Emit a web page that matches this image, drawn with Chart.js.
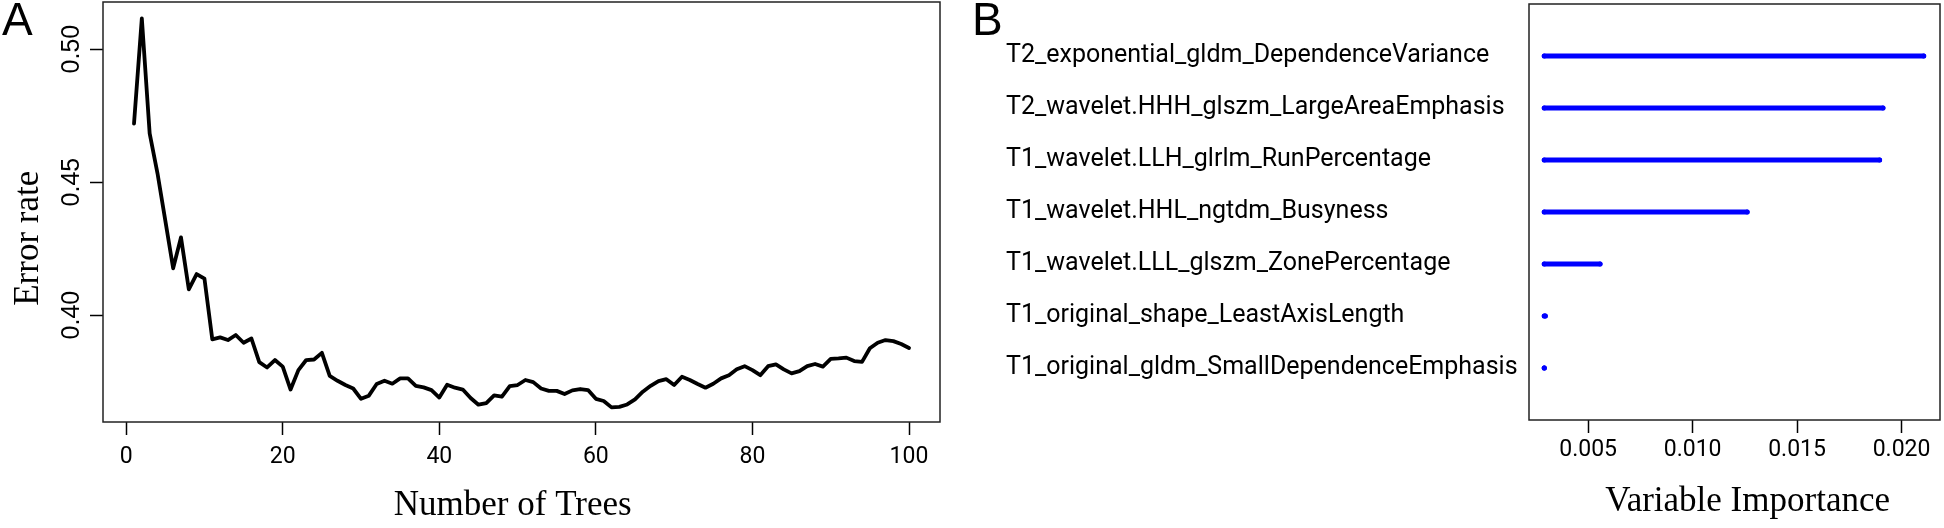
<!DOCTYPE html>
<html>
<head>
<meta charset="utf-8">
<title>Error rate and variable importance</title>
<script src="https://cdn.jsdelivr.net/npm/chart.js@4.4.1/dist/chart.umd.min.js"></script>
<style>
  body { margin: 0; background: #fff; width: 1944px; height: 528px; overflow: hidden; position: relative; }
  canvas { position: absolute; top: 0; }
  #chartA { left: 0; }
  #chartB { left: 975px; }
  .panel-tag { position: absolute; top: -4px; font-family: 'Liberation Sans', Arial, sans-serif; font-size: 46px; line-height: 1; color: #000; }
</style>
</head>
<body>
<canvas id="chartA" width="970" height="528"></canvas>
<canvas id="chartB" width="969" height="528"></canvas>
<div class="panel-tag" style="left:2px">A</div>
<div class="panel-tag" style="left:972px">B</div>
<script>
// panel A: OOB error rate against number of trees (1..100)
const errorRate = [
    0.4720, 0.5115, 0.4683, 0.4533, 0.4355, 0.4176, 0.4292, 0.4097, 0.4154, 0.4137,
    0.3909, 0.3916, 0.3906, 0.3925, 0.3896, 0.3912, 0.3823, 0.3803, 0.3831, 0.3806,
    0.3720, 0.3793, 0.3831, 0.3833, 0.3858, 0.3771, 0.3753, 0.3737, 0.3724, 0.3685,
    0.3697, 0.3741, 0.3753, 0.3742, 0.3762, 0.3762, 0.3734, 0.3728, 0.3718, 0.3690,
    0.3738, 0.3727, 0.3720, 0.3688, 0.3663, 0.3669, 0.3698, 0.3693, 0.3733, 0.3737,
    0.3756, 0.3748, 0.3724, 0.3715, 0.3715, 0.3703, 0.3717, 0.3722, 0.3718, 0.3685,
    0.3677, 0.3653, 0.3655, 0.3664, 0.3683, 0.3712, 0.3734, 0.3752, 0.3759, 0.3737,
    0.3768, 0.3756, 0.3741, 0.3727, 0.3742, 0.3762, 0.3774, 0.3796, 0.3808, 0.3793,
    0.3774, 0.3808, 0.3815, 0.3796, 0.3781, 0.3789, 0.3808, 0.3816, 0.3806, 0.3835,
    0.3837, 0.3840, 0.3827, 0.3824, 0.3875, 0.3896, 0.3906, 0.3902, 0.3891, 0.3876
];
const nTrees = errorRate.map((_, i) => i + 1);
const treeTicks = [0, 20, 40, 60, 80, 100];
const errorTicks = [0.40, 0.45, 0.50];

// panel B: variable importance
const featureNames = [
    'T2_exponential_gldm_DependenceVariance',
    'T2_wavelet.HHH_glszm_LargeAreaEmphasis',
    'T1_wavelet.LLH_glrlm_RunPercentage',
    'T1_wavelet.HHL_ngtdm_Busyness',
    'T1_wavelet.LLL_glszm_ZonePercentage',
    'T1_original_shape_LeastAxisLength',
    'T1_original_gldm_SmallDependenceEmphasis'
];
const importance = [0.02106, 0.01911, 0.01895, 0.01261, 0.00557, 0.00295, 0.00290];
const importanceTicks = [0.005, 0.010, 0.015, 0.020];

const narrowFont = "Roboto, 'Liberation Sans', sans-serif";
const serifFont = "'Liberation Serif', 'Times New Roman', serif";
const sp = '\u00a0';

// plot box like R's box()
const frameBox = {
    id: 'frameBox',
    afterDraw(chart) {
        const { ctx, chartArea: a } = chart;
        ctx.save();
        ctx.strokeStyle = '#222';
        ctx.lineWidth = 1.5;
        ctx.strokeRect(a.left, a.top, a.right - a.left, a.bottom - a.top);
        ctx.restore();
    }
};

const tickGrid = {
    drawOnChartArea: false,
    tickLength: 13,
    tickColor: '#000',
    tickWidth: 1.5
};

// fixed axis sizes so the plot boxes sit where they do in the figure
function fixWidth(w) {
    return s => { s.width = w; s.paddingTop = 0; s.paddingBottom = 0; };
}
function fixHeight(h) {
    return s => { s.height = h; };
}

new Chart(document.getElementById('chartA'), {
    type: 'line',
    data: {
        labels: nTrees,
        datasets: [{
            data: errorRate,
            borderColor: '#000',
            borderWidth: 3.8,
            pointRadius: 0,
            borderJoinStyle: 'round',
            borderCapStyle: 'round'
        }]
    },
    options: {
        responsive: false,
        animation: false,
        layout: { padding: { top: 2, right: 30, bottom: 0, left: 0 } },
        plugins: { legend: { display: false }, tooltip: { enabled: false } },
        scales: {
            x: {
                type: 'linear',
                min: -2.96,
                max: 103.96,
                afterBuildTicks: s => { s.ticks = treeTicks.map(v => ({ value: v })); },
                afterFit: fixHeight(106),
                grid: tickGrid,
                border: { display: false },
                ticks: { color: '#000', padding: 8, maxRotation: 0, font: { family: narrowFont, size: 23 } },
                title: {
                    display: true,
                    text: 'Number of Trees' + sp + sp,
                    color: '#000',
                    font: { family: serifFont, size: 35 },
                    padding: { top: 0, bottom: 1 }
                }
            },
            y: {
                min: 0.3598,
                max: 0.5177,
                afterBuildTicks: s => { s.ticks = errorTicks.map(v => ({ value: v })); },
                afterFit: fixWidth(103),
                grid: tickGrid,
                border: { display: false },
                ticks: {
                    color: '#000',
                    minRotation: 90,
                    maxRotation: 90,
                    crossAlign: 'center',
                    padding: -6,
                    font: { family: "'Liberation Sans', Arial, sans-serif", size: 25 },
                    callback: v => v.toFixed(2)
                },
                title: {
                    display: true,
                    text: 'Error rate' + sp.repeat(6),
                    color: '#000',
                    font: { family: serifFont, size: 35 },
                    padding: { top: 8, bottom: 0 }
                }
            }
        }
    },
    plugins: [frameBox]
});

// one segment per feature, from the smallest importance out to its value
const base = Math.min(...importance);
const segments = [];
importance.forEach((v, i) => {
    segments.push({ x: base, y: i + 1 }, { x: v, y: i + 1 }, { x: null, y: null });
});

new Chart(document.getElementById('chartB'), {
    type: 'scatter',
    data: {
        datasets: [{
            data: segments,
            showLine: true,
            spanGaps: false,
            borderColor: '#0000ff',
            borderWidth: 5,
            borderCapStyle: 'round',
            pointRadius: 2.5,
            pointBorderWidth: 0,
            pointBackgroundColor: '#0000ff'
        }]
    },
    options: {
        responsive: false,
        animation: false,
        layout: { padding: { top: 2, right: 1.3, bottom: 0, left: 31 } },
        plugins: { legend: { display: false }, tooltip: { enabled: false } },
        scales: {
            x: {
                min: 0.00217,
                max: 0.02184,
                afterBuildTicks: s => { s.ticks = importanceTicks.map(v => ({ value: v })); },
                afterFit: fixHeight(108),
                grid: tickGrid,
                border: { display: false },
                ticks: { color: '#000', padding: 3, maxRotation: 0, font: { family: narrowFont, size: 23 }, callback: v => v.toFixed(3) },
                title: {
                    display: true,
                    text: sp + sp + sp + 'Variable Importance',
                    color: '#000',
                    font: { family: serifFont, size: 35 },
                    padding: { top: 0, bottom: 5 }
                }
            },
            y: {
                min: 0,
                max: 8,
                reverse: true,
                afterBuildTicks: s => { s.ticks = featureNames.map((_, i) => ({ value: i + 1 })); },
                afterFit: fixWidth(523),
                grid: { display: false },
                border: { display: false },
                ticks: {
                    color: '#000',
                    crossAlign: 'far',
                    autoSkip: false,
                    font: { family: narrowFont, size: 25 },
                    callback: v => featureNames[v - 1]
                }
            }
        }
    },
    plugins: [frameBox]
});
</script>
</body>
</html>
